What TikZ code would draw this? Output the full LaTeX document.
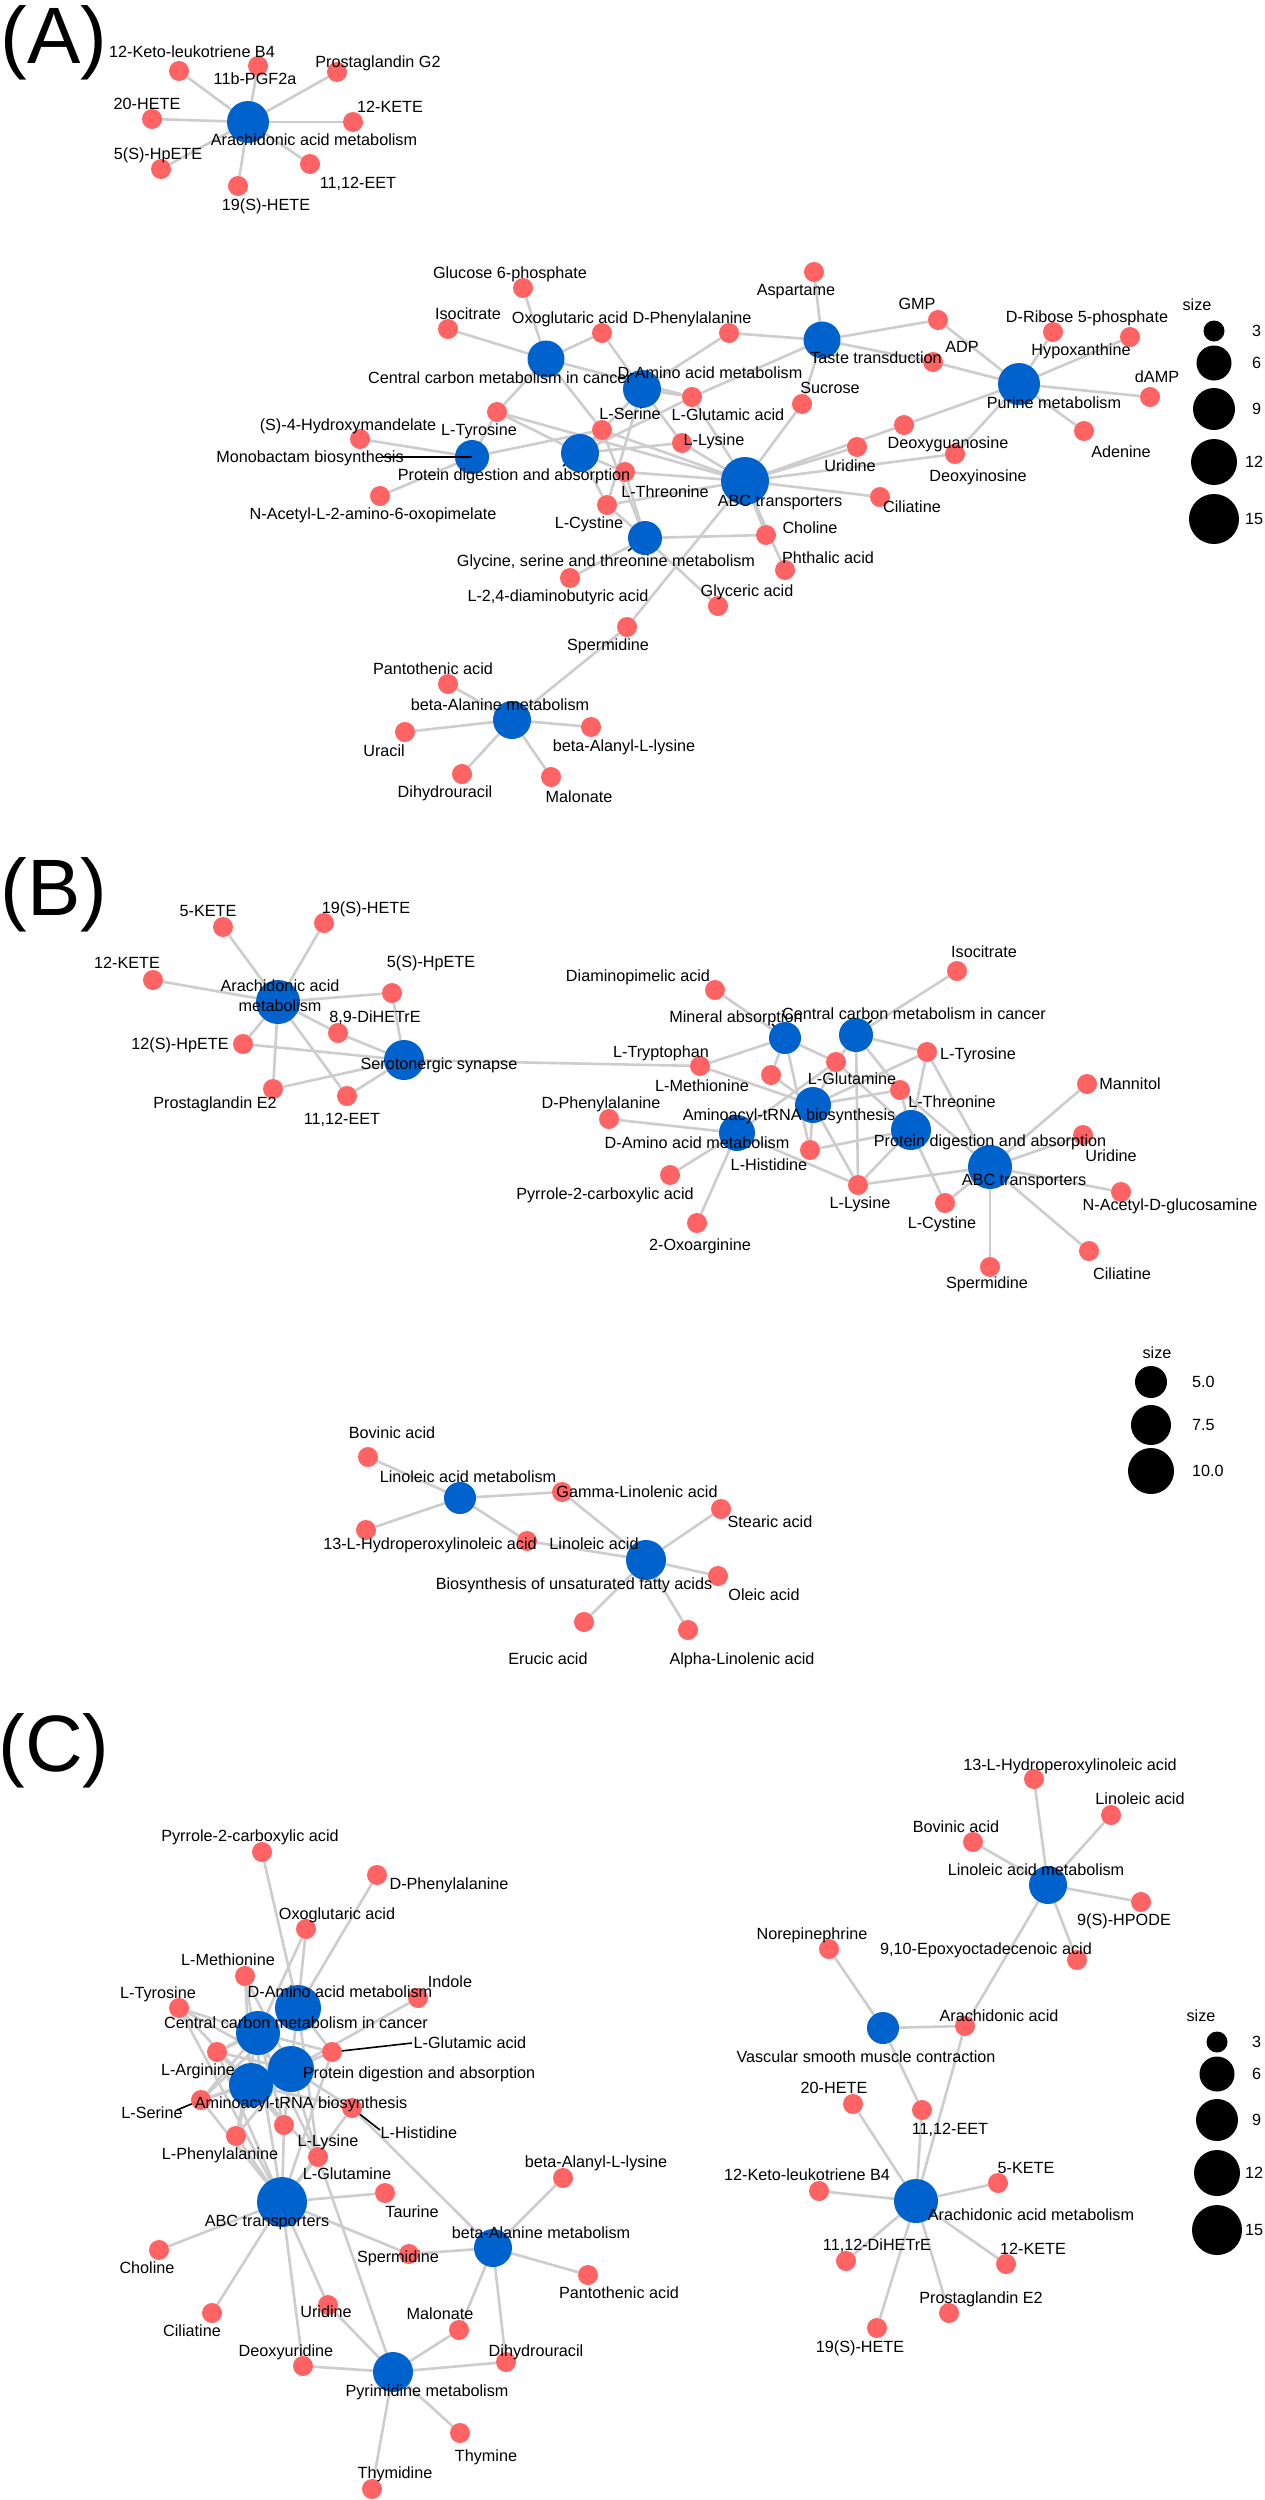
\documentclass[tikz,border=0pt]{standalone}
\usepackage{fontspec}
\setmainfont{Liberation Sans}
\pgfdeclarelayer{paper}\pgfdeclarelayer{edges}\pgfdeclarelayer{labels}
\pgfsetlayers{paper,edges,main,labels}
\definecolor{hubc}{RGB}{0,98,204}
\definecolor{cpdc}{RGB}{255,99,99}
\definecolor{edgec}{RGB}{205,205,205}
\tikzset{
 hub/.style={circle,fill=hubc,inner sep=0,outer sep=0},
 cpd/.style={circle,fill=cpdc,inner sep=0,outer sep=0,minimum size=20pt},
 lbl/.style={inner sep=0,anchor=base,yshift=-5.8pt,font=\fontsize{16.2}{20}\selectfont},
 edge/.style={draw=edgec,line width=2.6pt},
 leader/.style={draw=black,line width=1.6pt},
 panel/.style={inner sep=0,anchor=base,font=\fontsize{80}{84}\selectfont},
 legc/.style={circle,fill=black,inner sep=0},
 legl/.style={inner sep=0,anchor=base west,yshift=-5.8pt,font=\fontsize{16.2}{20}\selectfont},
}
\newcommand\mycpd[4]{\node[cpd] (#1) at (#2) {};\begin{pgfonlayer}{labels}\node[lbl] (#1l) at (#3) {#4};\end{pgfonlayer}}
\newcommand\myhub[5]{\node[hub,minimum size=#2pt] (#1) at (#3) {};\begin{pgfonlayer}{labels}\node[lbl] (#1l) at (#4) {#5};\end{pgfonlayer}}
\begin{document}
\begin{tikzpicture}[x=1pt,y=-1pt]
\begin{pgfonlayer}{paper}
\fill[white] (0,0) rectangle (1264,2500);
\end{pgfonlayer}
\useasboundingbox (0,0) rectangle (1264,2500);
% ---------------- Panel A
\node[panel] (pA) at (54,63) {(A)};
\myhub{a-AA}{42}{248,122}{314,140}{Arachidonic acid metabolism}
\mycpd{a-kb4}{179,71}{192,52}{12-Keto-leukotriene B4}
\mycpd{a-pgf}{258,66}{255,79}{11b-PGF2a}
\mycpd{a-pg2}{337,72}{378,62}{Prostaglandin G2}
\mycpd{a-h20}{152,119}{147,104}{20-HETE}
\mycpd{a-k12}{353,122}{390,107}{12-KETE}
\mycpd{a-hp5}{161,169}{158,154}{5(S)-HpETE}
\mycpd{a-eet}{310,164}{358,183}{11,12-EET}
\mycpd{a-h19}{238,186}{266,205}{19(S)-HETE}
\myhub{a-CC}{37}{546,359}{500,378}{Central carbon metabolism in cancer}
\mycpd{a-g6p}{523,288}{510,273}{Glucose 6-phosphate}
\mycpd{a-iso}{448,329}{468,314}{Isocitrate}
\mycpd{a-oxo}{602,333}{570,318}{Oxoglutaric acid}
\mycpd{a-dphe}{729,333}{692,318}{D-Phenylalanine}
\mycpd{a-tyr}{497,412}{479,430}{L-Tyrosine}
\mycpd{a-hyd}{360,439}{348,425}{(S)-4-Hydroxymandelate}
\myhub{a-MB}{34}{472,457}{310,457}{Monobactam biosynthesis}
\myhub{a-PD}{38}{580,453}{514,475}{Protein digestion and absorption}
\myhub{a-GST}{34}{645,538}{606,561}{Glycine, serine and threonine metabolism}
\mycpd{a-l24}{570,578}{558,596}{L-2,4-diaminobutyric acid}
\mycpd{a-spd}{627,627}{608,645}{Spermidine}
\mycpd{a-pan}{448,684}{433,669}{Pantothenic acid}
\myhub{a-BA}{38}{512,720}{500,705}{beta-Alanine metabolism}
\mycpd{a-ura}{405,732}{384,751}{Uracil}
\mycpd{a-bal}{591,727}{624,746}{beta-Alanyl-L-lysine}
\mycpd{a-dhu}{462,774}{445,792}{Dihydrouracil}
\mycpd{a-mal}{551,777}{579,797}{Malonate}
\mycpd{a-gly}{718,606}{747,591}{Glyceric acid}
\mycpd{a-nac}{380,496}{373,514}{N-Acetyl-L-2-amino-6-oxopimelate}
\mycpd{a-ser}{602,430}{630,414}{L-Serine}
\mycpd{a-thr}{625,472}{665,492}{L-Threonine}
\mycpd{a-cys}{607,505}{589,523}{L-Cystine}
\mycpd{a-glu}{692,397}{728,415}{L-Glutamic acid}
\mycpd{a-lys}{682,443}{714,440}{L-Lysine}
\mycpd{a-asp}{814,272}{796,290}{Aspartame}
\myhub{a-TT}{37}{822,340}{876,358}{Taste transduction}
\mycpd{a-gmp}{938,320}{917,304}{GMP}
\mycpd{a-adp}{933,362}{962,347}{ADP}
\mycpd{a-suc}{802,404}{830,388}{Sucrose}
\myhub{a-DA}{38}{642,389}{710,373}{D-Amino acid metabolism}
\mycpd{a-dgua}{904,425}{948,443}{Deoxyguanosine}
\myhub{a-PU}{42}{1019,384}{1054,403}{Purine metabolism}
\mycpd{a-drp}{1053,332}{1087,317}{D-Ribose 5-phosphate}
\mycpd{a-hyp}{1130,337}{1081,350}{Hypoxanthine}
\mycpd{a-damp}{1150,397}{1157,377}{dAMP}
\mycpd{a-ade}{1084,431}{1121,452}{Adenine}
\mycpd{a-dino}{955,454}{978,476}{Deoxyinosine}
\mycpd{a-uri}{857,447}{850,466}{Uridine}
\mycpd{a-cil}{880,497}{912,507}{Ciliatine}
\mycpd{a-cho}{766,535}{810,528}{Choline}
\mycpd{a-pht}{785,570}{828,558}{Phthalic acid}
\myhub{a-ABC}{48}{745,481}{780,501}{ABC transporters}
\coordinate (a-MBs) at (382,457);
\coordinate (a-PDs) at (563,466);
\coordinate (a-GSTs) at (628,551);
\node[lbl] (a-lsz) at (1197,305) {size};
\node[legc,minimum size=21pt] (a-g1) at (1214,331) {};
\node[legc,minimum size=35pt] (a-g2) at (1214,363) {};
\node[legc,minimum size=42pt] (a-g3) at (1214,409) {};
\node[legc,minimum size=46pt] (a-g4) at (1214,462) {};
\node[legc,minimum size=50pt] (a-g5) at (1214,519) {};
\node[legl] (a-t1) at (1252,331) {3};
\node[legl] (a-t2) at (1252,363) {6};
\node[legl] (a-t3) at (1252,409) {9};
\node[legl] (a-t4) at (1245,462) {12};
\node[legl] (a-t5) at (1245,519) {15};
% ---------------- Panel B
\node[panel] (pB) at (54,915) {(B)};
\node[hub,minimum size=44pt] (b-AA) at (278,1002) {};
\begin{pgfonlayer}{labels}
\node[lbl] (b-AAl1) at (280,986) {Arachidonic acid};
\node[lbl] (b-AAl2) at (280,1006) {metabolism};
\end{pgfonlayer}
\mycpd{b-k5}{223,927}{208,911}{5-KETE}
\mycpd{b-h19}{324,923}{366,908}{19(S)-HETE}
\mycpd{b-hp5}{392,993}{431,962}{5(S)-HpETE}
\mycpd{b-dh89}{338,1033}{375,1017}{8,9-DiHETrE}
\mycpd{b-k12}{153,980}{127,963}{12-KETE}
\mycpd{b-hp12}{243,1044}{180,1044}{12(S)-HpETE}
\mycpd{b-pge2}{273,1089}{215,1103}{Prostaglandin E2}
\mycpd{b-eet}{347,1096}{342,1119}{11,12-EET}
\myhub{b-SS}{40}{404,1060}{439,1064}{Serotonergic synapse}
\mycpd{b-dap}{715,990}{638,976}{Diaminopimelic acid}
\myhub{b-MA}{32}{785,1038}{736,1017}{Mineral absorption}
\mycpd{b-iso}{957,971}{984,952}{Isocitrate}
\myhub{b-CC}{34}{856,1035}{914,1014}{Central carbon metabolism in cancer}
\mycpd{b-trp}{700,1066}{661,1052}{L-Tryptophan}
\mycpd{b-tyr}{927,1052}{978,1054}{L-Tyrosine}
\mycpd{b-met}{771,1075}{702,1086}{L-Methionine}
\mycpd{b-gln}{836,1062}{852,1079}{L-Glutamine}
\mycpd{b-thr}{900,1090}{952,1102}{L-Threonine}
\myhub{b-AT}{36}{813,1105}{789,1115}{Aminoacyl-tRNA biosynthesis}
\myhub{b-PD}{40}{911,1130}{990,1141}{Protein digestion and absorption}
\myhub{b-DA}{36}{737,1133}{697,1143}{D-Amino acid metabolism}
\mycpd{b-his}{810,1150}{769,1165}{L-Histidine}
\myhub{b-ABC}{44}{990,1167}{1024,1180}{ABC transporters}
\mycpd{b-man}{1087,1084}{1130,1084}{Mannitol}
\mycpd{b-uri}{1083,1135}{1111,1156}{Uridine}
\mycpd{b-nag}{1121,1192}{1170,1205}{N-Acetyl-D-glucosamine}
\mycpd{b-dphe}{609,1119}{601,1103}{D-Phenylalanine}
\mycpd{b-pyr}{670,1175}{605,1194}{Pyrrole-2-carboxylic acid}
\mycpd{b-lys}{858,1185}{860,1203}{L-Lysine}
\mycpd{b-cys}{945,1203}{942,1223}{L-Cystine}
\mycpd{b-oxa}{697,1223}{700,1245}{2-Oxoarginine}
\mycpd{b-spd}{990,1267}{987,1283}{Spermidine}
\mycpd{b-cil}{1089,1251}{1122,1274}{Ciliatine}
\coordinate (b-MAs) at (772,1024);
\coordinate (b-CCs) at (872,1020);
\mycpd{b-bov}{368,1457}{392,1433}{Bovinic acid}
\myhub{b-LAM}{32}{460,1498}{468,1477}{Linoleic acid metabolism}
\mycpd{b-gla}{562,1492}{637,1492}{Gamma-Linolenic acid}
\mycpd{b-ste}{721,1509}{770,1522}{Stearic acid}
\mycpd{b-hpl}{366,1530}{430,1544}{13-L-Hydroperoxylinoleic acid}
\mycpd{b-lin}{527,1541}{594,1544}{Linoleic acid}
\myhub{b-BUF}{40}{646,1560}{574,1584}{Biosynthesis of unsaturated fatty acids}
\mycpd{b-ole}{718,1576}{764,1595}{Oleic acid}
\mycpd{b-eru}{584,1622}{548,1659}{Erucic acid}
\mycpd{b-ala}{688,1630}{742,1659}{Alpha-Linolenic acid}
\node[lbl] (b-lsz) at (1157,1353) {size};
\node[legc,minimum size=32pt] (b-g1) at (1151,1382) {};
\node[legc,minimum size=40pt] (b-g2) at (1151,1425) {};
\node[legc,minimum size=46pt] (b-g3) at (1151,1471) {};
\node[legl] (b-t1) at (1192,1382) {5.0};
\node[legl] (b-t2) at (1192,1425) {7.5};
\node[legl] (b-t3) at (1192,1471) {10.0};
% ---------------- Panel C
\node[panel] (pC) at (54,1771) {(C)};
\mycpd{c-pyr}{262,1852}{250,1836}{Pyrrole-2-carboxylic acid}
\mycpd{c-dphe}{377,1875}{449,1884}{D-Phenylalanine}
\mycpd{c-oxo}{306,1929}{337,1914}{Oxoglutaric acid}
\mycpd{c-met}{245,1976}{228,1960}{L-Methionine}
\mycpd{c-tyr}{179,2008}{158,1993}{L-Tyrosine}
\myhub{c-DA}{46}{298,2008}{340,1992}{D-Amino acid metabolism}
\mycpd{c-ind}{418,1998}{450,1982}{Indole}
\myhub{c-CC}{44}{258,2033}{296,2023}{Central carbon metabolism in cancer}
\mycpd{c-arg}{217,2052}{198,2070}{L-Arginine}
\mycpd{c-glu}{332,2052}{470,2043}{L-Glutamic acid}
\myhub{c-PD}{46}{291,2069}{419,2073}{Protein digestion and absorption}
\myhub{c-AT}{44}{251,2085}{301,2103}{Aminoacyl-tRNA biosynthesis}
\mycpd{c-ser}{201,2100}{152,2113}{L-Serine}
\mycpd{c-his}{352,2108}{419,2133}{L-Histidine}
\mycpd{c-lys}{284,2125}{328,2141}{L-Lysine}
\mycpd{c-phe}{236,2136}{220,2154}{L-Phenylalanine}
\mycpd{c-gln}{318,2157}{347,2174}{L-Glutamine}
\myhub{c-ABC}{50}{282,2202}{267,2221}{ABC transporters}
\mycpd{c-tau}{385,2193}{412,2212}{Taurine}
\mycpd{c-cho}{159,2250}{147,2268}{Choline}
\mycpd{c-cil}{212,2313}{192,2331}{Ciliatine}
\mycpd{c-uri}{328,2305}{326,2312}{Uridine}
\mycpd{c-dur}{303,2366}{286,2351}{Deoxyuridine}
\myhub{c-PY}{40}{393,2372}{427,2391}{Pyrimidine metabolism}
\mycpd{c-thd}{372,2489}{395,2473}{Thymidine}
\mycpd{c-thy}{460,2433}{486,2456}{Thymine}
\mycpd{c-spd}{409,2254}{398,2257}{Spermidine}
\mycpd{c-mal}{459,2330}{440,2314}{Malonate}
\mycpd{c-dhu}{506,2362}{536,2351}{Dihydrouracil}
\myhub{c-BA}{38}{493,2248}{541,2233}{beta-Alanine metabolism}
\mycpd{c-bal}{563,2178}{596,2162}{beta-Alanyl-L-lysine}
\mycpd{c-pan}{588,2275}{619,2293}{Pantothenic acid}
\mycpd{c-hpl}{1034,1779}{1070,1765}{13-L-Hydroperoxylinoleic acid}
\mycpd{c-lin}{1111,1815}{1140,1799}{Linoleic acid}
\mycpd{c-bov}{973,1842}{956,1827}{Bovinic acid}
\myhub{c-LAM}{38}{1048,1885}{1036,1870}{Linoleic acid metabolism}
\mycpd{c-hpo}{1141,1902}{1124,1920}{9(S)-HPODE}
\mycpd{c-epo}{1077,1960}{986,1949}{9,10-Epoxyoctadecenoic acid}
\mycpd{c-nor}{829,1949}{812,1934}{Norepinephrine}
\myhub{c-VS}{32}{883,2028}{866,2057}{Vascular smooth muscle contraction}
\mycpd{c-ara}{965,2026}{999,2016}{Arachidonic acid}
\mycpd{c-h20}{853,2104}{834,2088}{20-HETE}
\mycpd{c-eet}{922,2110}{950,2129}{11,12-EET}
\mycpd{c-kb4}{819,2191}{807,2175}{12-Keto-leukotriene B4}
\myhub{c-AA}{44}{916,2201}{1031,2215}{Arachidonic acid metabolism}
\mycpd{c-k5}{998,2183}{1026,2168}{5-KETE}
\mycpd{c-dh}{846,2261}{877,2245}{11,12-DiHETrE}
\mycpd{c-k12}{1006,2264}{1033,2249}{12-KETE}
\mycpd{c-pge2}{949,2313}{981,2298}{Prostaglandin E2}
\mycpd{c-h19}{877,2328}{860,2347}{19(S)-HETE}
\coordinate (c-glus) at (412,2043);
\coordinate (c-sers) at (177,2110);
\coordinate (c-hiss) at (380,2130);
\node[lbl] (c-lsz) at (1201,2016) {size};
\node[legc,minimum size=21pt] (c-g1) at (1217,2042) {};
\node[legc,minimum size=35pt] (c-g2) at (1217,2074) {};
\node[legc,minimum size=42pt] (c-g3) at (1217,2120) {};
\node[legc,minimum size=46pt] (c-g4) at (1217,2173) {};
\node[legc,minimum size=50pt] (c-g5) at (1217,2230) {};
\node[legl] (c-t1) at (1252,2042) {3};
\node[legl] (c-t2) at (1252,2074) {6};
\node[legl] (c-t3) at (1252,2120) {9};
\node[legl] (c-t4) at (1245,2173) {12};
\node[legl] (c-t5) at (1245,2230) {15};
% ---------------- edges
\begin{pgfonlayer}{edges}
\foreach \p/\q in {a-AA/a-kb4,a-AA/a-pgf,a-AA/a-pg2,a-AA/a-h20,a-AA/a-k12,a-AA/a-hp5,a-AA/a-eet,a-AA/a-h19,
 a-CC/a-g6p,a-CC/a-iso,a-CC/a-oxo,a-CC/a-tyr,a-CC/a-ser,a-CC/a-glu,
 a-DA/a-oxo,a-DA/a-dphe,a-DA/a-ser,a-DA/a-glu,a-DA/a-lys,a-DA/a-cys,
 a-TT/a-asp,a-TT/a-dphe,a-TT/a-gmp,a-TT/a-adp,a-TT/a-suc,a-TT/a-glu,
 a-PU/a-gmp,a-PU/a-adp,a-PU/a-drp,a-PU/a-hyp,a-PU/a-damp,a-PU/a-ade,a-PU/a-dgua,a-PU/a-dino,
 a-ABC/a-suc,a-ABC/a-dgua,a-ABC/a-dino,a-ABC/a-uri,a-ABC/a-cil,a-ABC/a-cho,a-ABC/a-pht,a-ABC/a-spd,
 a-ABC/a-ser,a-ABC/a-glu,a-ABC/a-lys,a-ABC/a-thr,a-ABC/a-cys,a-ABC/a-tyr,
 a-PD/a-tyr,a-PD/a-ser,a-PD/a-lys,a-PD/a-thr,a-PD/a-cys,a-PD/a-glu,
 a-MB/a-hyd,a-MB/a-nac,a-MB/a-tyr,a-MB/a-ser,
 a-GST/a-ser,a-GST/a-thr,a-GST/a-cys,a-GST/a-l24,a-GST/a-cho,a-GST/a-gly,
 a-BA/a-pan,a-BA/a-ura,a-BA/a-bal,a-BA/a-dhu,a-BA/a-mal,a-BA/a-spd,
 b-AA/b-k5,b-AA/b-h19,b-AA/b-hp5,b-AA/b-dh89,b-AA/b-k12,b-AA/b-hp12,b-AA/b-pge2,b-AA/b-eet,
 b-SS/b-hp5,b-SS/b-dh89,b-SS/b-hp12,b-SS/b-pge2,b-SS/b-eet,b-SS/b-trp,
 b-MA/b-dap,b-MA/b-trp,b-MA/b-met,b-MA/b-gln,b-MA/b-his,
 b-CC/b-iso,b-CC/b-tyr,b-CC/b-gln,b-CC/b-thr,b-CC/b-lys,
 b-AT/b-trp,b-AT/b-met,b-AT/b-gln,b-AT/b-thr,b-AT/b-tyr,b-AT/b-his,b-AT/b-lys,
 b-PD/b-tyr,b-PD/b-thr,b-PD/b-his,b-PD/b-lys,b-PD/b-cys,b-PD/b-gln,
 b-DA/b-dphe,b-DA/b-pyr,b-DA/b-oxa,b-DA/b-lys,b-DA/b-gln,
 b-ABC/b-man,b-ABC/b-uri,b-ABC/b-nag,b-ABC/b-cil,b-ABC/b-spd,b-ABC/b-cys,b-ABC/b-lys,b-ABC/b-thr,b-ABC/b-tyr,
 b-LAM/b-bov,b-LAM/b-gla,b-LAM/b-hpl,b-LAM/b-lin,
 b-BUF/b-gla,b-BUF/b-ste,b-BUF/b-lin,b-BUF/b-ole,b-BUF/b-eru,b-BUF/b-ala,
 c-DA/c-pyr,c-DA/c-dphe,c-DA/c-oxo,c-DA/c-glu,c-DA/c-arg,c-DA/c-ser,c-DA/c-lys,c-DA/c-gln,
 c-CC/c-oxo,c-CC/c-glu,c-CC/c-gln,c-CC/c-ser,c-CC/c-arg,c-CC/c-tyr,c-CC/c-phe,c-CC/c-lys,
 c-PD/c-tyr,c-PD/c-met,c-PD/c-arg,c-PD/c-ser,c-PD/c-phe,c-PD/c-lys,c-PD/c-his,c-PD/c-gln,c-PD/c-ind,c-PD/c-glu,
 c-AT/c-met,c-AT/c-tyr,c-AT/c-arg,c-AT/c-ser,c-AT/c-phe,c-AT/c-lys,c-AT/c-his,c-AT/c-gln,c-AT/c-glu,
 c-ABC/c-met,c-ABC/c-tyr,c-ABC/c-arg,c-ABC/c-ser,c-ABC/c-phe,c-ABC/c-lys,c-ABC/c-his,c-ABC/c-gln,c-ABC/c-glu,
 c-ABC/c-tau,c-ABC/c-cho,c-ABC/c-cil,c-ABC/c-uri,c-ABC/c-dur,c-ABC/c-spd,
 c-PY/c-gln,c-PY/c-uri,c-PY/c-dur,c-PY/c-thd,c-PY/c-thy,c-PY/c-mal,c-PY/c-dhu,
 c-BA/c-his,c-BA/c-spd,c-BA/c-mal,c-BA/c-dhu,c-BA/c-bal,c-BA/c-pan,
 c-LAM/c-hpl,c-LAM/c-lin,c-LAM/c-bov,c-LAM/c-hpo,c-LAM/c-epo,c-LAM/c-ara,
 c-VS/c-nor,c-VS/c-ara,c-VS/c-eet,
 c-AA/c-ara,c-AA/c-h20,c-AA/c-eet,c-AA/c-kb4,c-AA/c-k5,c-AA/c-dh,c-AA/c-k12,c-AA/c-pge2,c-AA/c-h19}
 {\path[edge] (\p) -- (\q);}
\end{pgfonlayer}
\begin{pgfonlayer}{labels}
\draw[leader] (a-MBs) -- (a-MB.center);
\draw[leader] (a-PDs) -- (a-PD);
\draw[leader] (a-GSTs) -- (a-GST);
\draw[leader] (b-MAs) -- (b-MA);
\draw[leader] (b-CCs) -- (b-CC);
\draw[leader] (c-glus) -- (c-glu);
\draw[leader] (c-sers) -- (c-ser);
\draw[leader] (c-hiss) -- (c-his);
\end{pgfonlayer}
\end{tikzpicture}
\end{document}
